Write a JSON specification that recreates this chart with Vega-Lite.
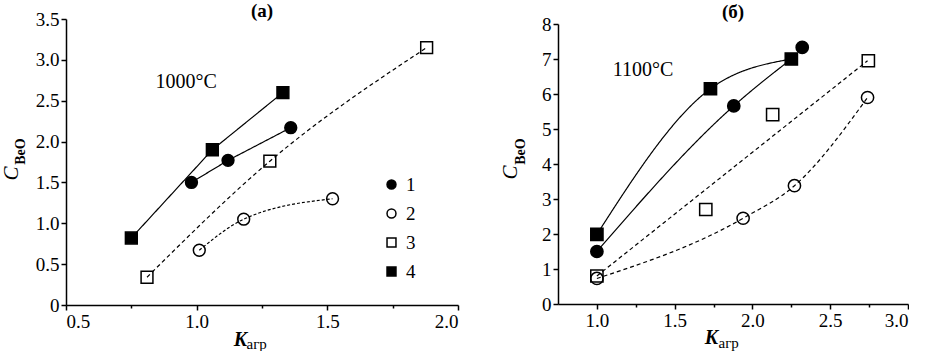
{
  "$schema": "https://vega.github.io/schema/vega-lite/v6.json",
  "padding": {"left": 0, "top": 2, "right": 0, "bottom": 0},
  "spacing": 40,
  "align": "none",
  "bounds": "full",
  "datasets": {
    "pts": [
      {"panel": "a", "series": "1", "x": 0.98, "y": 1.50},
      {"panel": "a", "series": "1", "x": 1.12, "y": 1.77},
      {"panel": "a", "series": "1", "x": 1.36, "y": 2.17},
      {"panel": "a", "series": "2", "x": 1.01, "y": 0.67},
      {"panel": "a", "series": "2", "x": 1.18, "y": 1.05},
      {"panel": "a", "series": "2", "x": 1.52, "y": 1.30},
      {"panel": "a", "series": "3", "x": 0.81, "y": 0.34},
      {"panel": "a", "series": "3", "x": 1.28, "y": 1.76},
      {"panel": "a", "series": "3", "x": 1.88, "y": 3.15},
      {"panel": "a", "series": "4", "x": 0.75, "y": 0.82},
      {"panel": "a", "series": "4", "x": 1.06, "y": 1.90},
      {"panel": "a", "series": "4", "x": 1.33, "y": 2.60},
      {"panel": "b", "series": "1", "x": 1.0, "y": 1.50},
      {"panel": "b", "series": "1", "x": 1.88, "y": 5.66},
      {"panel": "b", "series": "1", "x": 2.32, "y": 7.33},
      {"panel": "b", "series": "2", "x": 1.0, "y": 0.73},
      {"panel": "b", "series": "2", "x": 1.94, "y": 2.45},
      {"panel": "b", "series": "2", "x": 2.27, "y": 3.38},
      {"panel": "b", "series": "2", "x": 2.74, "y": 5.90},
      {"panel": "b", "series": "3", "x": 1.0, "y": 0.80},
      {"panel": "b", "series": "3", "x": 1.70, "y": 2.70},
      {"panel": "b", "series": "3", "x": 2.13, "y": 5.41},
      {"panel": "b", "series": "3", "x": 2.745, "y": 6.95},
      {"panel": "b", "series": "4", "x": 1.0, "y": 1.99},
      {"panel": "b", "series": "4", "x": 1.73, "y": 6.15},
      {"panel": "b", "series": "4", "x": 2.25, "y": 7.00}
    ],
    "lines": [
      {"panel": "a", "line": "1", "kind": "lin", "dash": "solid", "x": 0.98, "y": 1.50},
      {"panel": "a", "line": "1", "kind": "lin", "dash": "solid", "x": 1.12, "y": 1.77},
      {"panel": "a", "line": "1", "kind": "lin", "dash": "solid", "x": 1.36, "y": 2.17},
      {"panel": "a", "line": "4", "kind": "lin", "dash": "solid", "x": 0.75, "y": 0.82},
      {"panel": "a", "line": "4", "kind": "lin", "dash": "solid", "x": 1.06, "y": 1.90},
      {"panel": "a", "line": "4", "kind": "lin", "dash": "solid", "x": 1.33, "y": 2.60},
      {"panel": "a", "line": "3", "kind": "mono", "dash": "dash", "x": 0.81, "y": 0.34},
      {"panel": "a", "line": "3", "kind": "mono", "dash": "dash", "x": 1.28, "y": 1.76},
      {"panel": "a", "line": "3", "kind": "mono", "dash": "dash", "x": 1.88, "y": 3.15},
      {"panel": "a", "line": "2", "kind": "mono", "dash": "dot", "x": 1.01, "y": 0.67},
      {"panel": "a", "line": "2", "kind": "mono", "dash": "dot", "x": 1.18, "y": 1.05},
      {"panel": "a", "line": "2", "kind": "mono", "dash": "dot", "x": 1.52, "y": 1.30},
      {"panel": "b", "line": "1", "kind": "mono", "dash": "solid", "x": 1.0, "y": 1.50},
      {"panel": "b", "line": "1", "kind": "mono", "dash": "solid", "x": 1.88, "y": 5.66},
      {"panel": "b", "line": "1", "kind": "mono", "dash": "solid", "x": 2.25, "y": 7.00},
      {"panel": "b", "line": "4", "kind": "mono", "dash": "solid", "x": 1.0, "y": 1.99},
      {"panel": "b", "line": "4", "kind": "mono", "dash": "solid", "x": 1.73, "y": 6.15},
      {"panel": "b", "line": "4", "kind": "mono", "dash": "solid", "x": 2.25, "y": 7.00},
      {"panel": "b", "line": "3", "kind": "lin", "dash": "dash", "x": 1.0, "y": 0.80},
      {"panel": "b", "line": "3", "kind": "lin", "dash": "dash", "x": 2.74, "y": 6.95},
      {"panel": "b", "line": "2", "kind": "mono", "dash": "dash", "x": 1.0, "y": 0.73},
      {"panel": "b", "line": "2", "kind": "mono", "dash": "dash", "x": 1.94, "y": 2.45},
      {"panel": "b", "line": "2", "kind": "mono", "dash": "dash", "x": 2.27, "y": 3.38},
      {"panel": "b", "line": "2", "kind": "mono", "dash": "dash", "x": 2.74, "y": 5.90}
    ],
    "notes": [
      {"panel": "a", "x": 0.96, "y": 2.73, "label": "1000°C"},
      {"panel": "b", "x": 1.296, "y": 6.69, "label": "1100°C"}
    ]
  },
  "config": {
    "view": {"stroke": null},
    "axis": {
      "domainColor": "black", "domainWidth": 1.5,
      "tickColor": "black", "tickWidth": 1.5, "tickSize": 5,
      "labelFontSize": 19, "labelColor": "black",
      "labelPadding": 2, "grid": false,
      "titleColor": "black", "titleFontWeight": "normal"
    },
    "legend": {"labelFontSize": 19, "labelColor": "black"}
  },
  "resolve": {
    "scale": {"shape": "independent", "fill": "independent", "strokeDash": "independent"},
    "legend": {"shape": "independent", "fill": "independent", "strokeDash": "independent"}
  },
  "hconcat": [
    {
      "width": 392,
      "height": 286,
      "title": {"text": "(a)", "font": "Liberation Serif, Times New Roman, serif", "fontSize": 19, "fontWeight": "bold", "color": "black", "offset": -11, "frame": "group", "anchor": "middle"},
      "resolve": {"axis": {"x": "independent", "y": "independent"}},
      "layer": [
        {
          "data": {"name": "lines"},
          "transform": [{"filter": "datum.panel == 'a' && datum.kind == 'lin'"}],
          "mark": {"type": "line", "color": "black", "strokeWidth": 1.2},
          "encoding": {
            "x": {"field": "x", "type": "quantitative", "scale": {"domain": [0.5, 2.0], "nice": false, "zero": false}, "axis": null},
            "y": {"field": "y", "type": "quantitative", "scale": {"domain": [0, 3.5], "nice": false}, "axis": null},
            "detail": {"field": "line"},
            "strokeDash": {"field": "dash", "type": "nominal", "scale": {"domain": ["solid", "dash", "dot"], "range": [[1, 0], [4, 3], [3, 2]]}, "legend": null}
          }
        },
        {
          "data": {"name": "lines"},
          "transform": [{"filter": "datum.panel == 'a' && datum.kind == 'mono'"}],
          "mark": {"type": "line", "color": "black", "strokeWidth": 1.2, "interpolate": "monotone"},
          "encoding": {
            "x": {"field": "x", "type": "quantitative", "axis": null},
            "y": {"field": "y", "type": "quantitative", "axis": null},
            "detail": {"field": "line"},
            "strokeDash": {"field": "dash", "type": "nominal", "legend": null}
          }
        },
        {
          "data": {"name": "pts"},
          "transform": [{"filter": "datum.panel == 'a'"}],
          "mark": {"type": "point", "filled": true, "size": 140, "stroke": "black", "strokeWidth": 1.5, "opacity": 1},
          "encoding": {
            "x": {"field": "x", "type": "quantitative", "axis": {
              "orient": "bottom",
              "values": [0.5, 0.75, 1.0, 1.25, 1.5, 1.75, 2.0],
              "labelExpr": "datum.value * 2 == round(datum.value * 2) ? format(datum.value, '.1f') : ''",
              "labelFont": "Liberation Serif, Times New Roman, serif", "labelFontSize": 19,
              "tickSize": {"condition": {"test": "datum.value * 2 != round(datum.value * 2)", "value": 3}, "value": 5},
              "title": "K", "titleFont": "Liberation Serif, Times New Roman, serif", "titleFontStyle": "italic", "titleFontWeight": "bold", "titleFontSize": 20,
              "titleAlign": "center", "titleBaseline": "alphabetic", "titleX": 174, "titleY": 40,
              "encode": {"labels": {"update": {"font": {"value": "Liberation Serif, Times New Roman, serif"}}}}
            }},
            "y": {"field": "y", "type": "quantitative", "axis": {
              "orient": "left",
              "values": [0, 0.5, 1.0, 1.5, 2.0, 2.5, 3.0, 3.5],
              "labelExpr": "datum.value == 0 ? '0' : format(datum.value, '.1f')",
              "labelFont": "Liberation Serif, Times New Roman, serif", "labelFontSize": 19,
              "title": "C", "titleFont": "Liberation Serif, Times New Roman, serif", "titleFontStyle": "italic", "titleFontSize": 21,
              "titleAngle": 270, "titleAlign": "center", "titleBaseline": "alphabetic", "titleX": -49, "titleY": 154,
              "encode": {"labels": {"update": {"font": {"value": "Liberation Serif, Times New Roman, serif"}}}}
            }},
            "shape": {"field": "series", "type": "nominal", "scale": {"domain": ["1", "2", "3", "4"], "range": ["circle", "circle", "square", "square"]},
              "legend": {"title": null, "orient": "none", "legendX": 316, "legendY": 156, "symbolSize": 80, "rowPadding": 9, "labelOffset": 5, "labelFontSize": 19, "labelFont": "Liberation Serif, Times New Roman, serif",
                "encode": {"symbols": {"update": {"stroke": {"value": "black"}, "strokeWidth": {"value": 1.5}}}}}},
            "fill": {"field": "series", "type": "nominal", "scale": {"domain": ["1", "2", "3", "4"], "range": ["black", "transparent", "transparent", "black"]},
              "legend": {"title": null, "orient": "none", "legendX": 316, "legendY": 156, "symbolSize": 80, "rowPadding": 9, "labelOffset": 5, "labelFontSize": 19, "labelFont": "Liberation Serif, Times New Roman, serif",
                "encode": {"symbols": {"update": {"stroke": {"value": "black"}, "strokeWidth": {"value": 1.5}}}}}}
          }
        },
        {
          "data": {"name": "notes"},
          "transform": [{"filter": "datum.panel == 'a'"}],
          "mark": {"type": "text", "font": "Liberation Serif, Times New Roman, serif", "fontSize": 20, "color": "black", "baseline": "middle", "align": "center"},
          "encoding": {
            "x": {"field": "x", "type": "quantitative", "axis": {
              "orient": "bottom", "domain": false, "ticks": false, "labels": false,
              "title": "агр", "titleFont": "Liberation Serif, Times New Roman, serif", "titleFontSize": 15, "titleAlign": "left", "titleBaseline": "alphabetic", "titleX": 180, "titleY": 43
            }},
            "y": {"field": "y", "type": "quantitative", "axis": {
              "orient": "left", "domain": false, "ticks": false, "labels": false,
              "title": "BeO", "titleFont": "Liberation Serif, Times New Roman, serif", "titleFontSize": 14, "titleFontWeight": "bold",
              "titleAngle": 270, "titleAlign": "center", "titleBaseline": "alphabetic", "titleX": -42, "titleY": 132
            }},
            "text": {"field": "label"}
          }
        }
      ]
    },
    {
      "width": 350,
      "height": 285,
      "title": {"text": "(б)", "font": "Liberation Serif, Times New Roman, serif", "fontSize": 19, "fontWeight": "bold", "color": "black", "offset": -7, "frame": "group", "anchor": "middle"},
      "resolve": {"axis": {"x": "independent", "y": "independent"}},
      "layer": [
        {
          "data": {"name": "lines"},
          "transform": [{"filter": "datum.panel == 'b' && datum.kind == 'lin'"}],
          "mark": {"type": "line", "color": "black", "strokeWidth": 1.2},
          "encoding": {
            "x": {"field": "x", "type": "quantitative", "scale": {"domain": [0.75, 3.0], "nice": false, "zero": false}, "axis": null},
            "y": {"field": "y", "type": "quantitative", "scale": {"domain": [0, 8], "nice": false, "range": [285, 5]}, "axis": null},
            "detail": {"field": "line"},
            "strokeDash": {"field": "dash", "type": "nominal", "scale": {"domain": ["solid", "dash"], "range": [[1, 0], [4, 3]]}, "legend": null}
          }
        },
        {
          "data": {"name": "lines"},
          "transform": [{"filter": "datum.panel == 'b' && datum.kind == 'mono'"}],
          "mark": {"type": "line", "color": "black", "strokeWidth": 1.2, "interpolate": "monotone"},
          "encoding": {
            "x": {"field": "x", "type": "quantitative", "axis": null},
            "y": {"field": "y", "type": "quantitative", "axis": null},
            "detail": {"field": "line"},
            "strokeDash": {"field": "dash", "type": "nominal", "legend": null}
          }
        },
        {
          "data": {"name": "pts"},
          "transform": [{"filter": "datum.panel == 'b'"}],
          "mark": {"type": "point", "filled": true, "size": 150, "stroke": "black", "strokeWidth": 1.5, "opacity": 1},
          "encoding": {
            "x": {"field": "x", "type": "quantitative", "axis": {
              "orient": "bottom",
              "values": [1.0, 1.25, 1.5, 1.75, 2.0, 2.25, 2.5, 2.75, 3.0],
              "labelExpr": "datum.value * 2 == round(datum.value * 2) ? format(datum.value, '.1f') : ''",
              "labelFont": "Liberation Serif, Times New Roman, serif", "labelFontSize": 19,
              "tickSize": {"condition": {"test": "datum.value * 2 != round(datum.value * 2)", "value": 3}, "value": 5},
              "title": "K", "titleFont": "Liberation Serif, Times New Roman, serif", "titleFontStyle": "italic", "titleFontWeight": "bold", "titleFontSize": 20,
              "titleAlign": "center", "titleBaseline": "alphabetic", "titleX": 153, "titleY": 39,
              "encode": {"labels": {"update": {"font": {"value": "Liberation Serif, Times New Roman, serif"}}}}
            }},
            "y": {"field": "y", "type": "quantitative", "axis": {
              "orient": "left",
              "values": [0, 1, 2, 3, 4, 5, 6, 7, 8],
              "format": "d",
              "labelFont": "Liberation Serif, Times New Roman, serif", "labelFontSize": 19,
              "title": "C", "titleFont": "Liberation Serif, Times New Roman, serif", "titleFontStyle": "italic", "titleFontSize": 21,
              "titleAngle": 270, "titleAlign": "center", "titleBaseline": "alphabetic", "titleX": -42, "titleY": 153,
              "encode": {"labels": {"update": {"font": {"value": "Liberation Serif, Times New Roman, serif"}}}}
            }},
            "shape": {"field": "series", "type": "nominal", "scale": {"domain": ["1", "2", "3", "4"], "range": ["circle", "circle", "square", "square"]}, "legend": null},
            "fill": {"field": "series", "type": "nominal", "scale": {"domain": ["1", "2", "3", "4"], "range": ["black", "transparent", "transparent", "black"]}, "legend": null}
          }
        },
        {
          "data": {"name": "notes"},
          "transform": [{"filter": "datum.panel == 'b'"}],
          "mark": {"type": "text", "font": "Liberation Serif, Times New Roman, serif", "fontSize": 20, "color": "black", "baseline": "middle", "align": "center"},
          "encoding": {
            "x": {"field": "x", "type": "quantitative", "axis": {
              "orient": "bottom", "domain": false, "ticks": false, "labels": false,
              "title": "агр", "titleFont": "Liberation Serif, Times New Roman, serif", "titleFontSize": 15, "titleAlign": "left", "titleBaseline": "alphabetic", "titleX": 160, "titleY": 43
            }},
            "y": {"field": "y", "type": "quantitative", "axis": {
              "orient": "left", "domain": false, "ticks": false, "labels": false,
              "title": "BeO", "titleFont": "Liberation Serif, Times New Roman, serif", "titleFontSize": 14, "titleFontWeight": "bold",
              "titleAngle": 270, "titleAlign": "center", "titleBaseline": "alphabetic", "titleX": -34, "titleY": 132
            }},
            "text": {"field": "label"}
          }
        }
      ]
    }
  ]
}
